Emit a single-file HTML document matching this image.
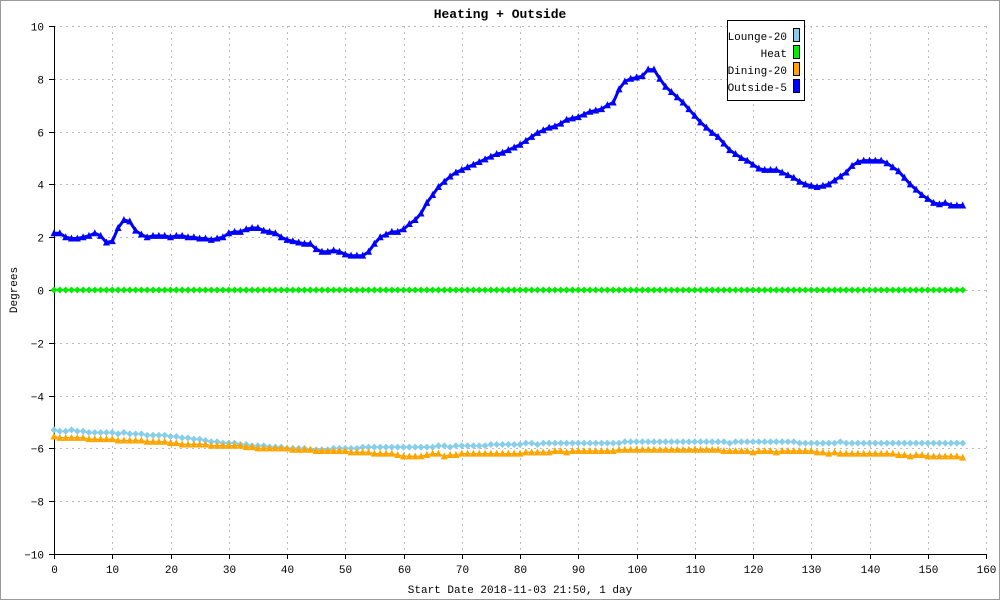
<!DOCTYPE html>
<html><head><meta charset="utf-8"><style>
html,body{margin:0;padding:0;background:#fff}
svg{display:block}
text{font-family:"Liberation Mono","DejaVu Sans Mono",monospace}
</style></head><body>
<svg id="chart" width="1000" height="600" viewBox="0 0 1000 600" xmlns="http://www.w3.org/2000/svg">
<rect x="0.5" y="0.5" width="999" height="599" fill="#fff" stroke="#999"/>
<text x="500" y="18" text-anchor="middle" font-size="13" font-weight="bold">Heating + Outside</text>
<g id="grid"></g><g id="axes"></g><g id="series"></g>
<text x="520" y="593" text-anchor="middle" font-size="11">Start Date 2018-11-03 21:50, 1 day</text>
<text transform="translate(17,290) rotate(-90)" text-anchor="middle" font-size="11">Degrees</text>
<g>
<rect x="727.5" y="20.5" width="77" height="80" fill="#fff" stroke="#000"/>
<text x="787" y="40" text-anchor="end" font-size="11">Lounge-20</text>
<rect x="793.5" y="28.5" width="6" height="13" fill="#87ceeb" stroke="#000"/>
<text x="787" y="57" text-anchor="end" font-size="11">Heat</text>
<rect x="793.5" y="45.5" width="6" height="13" fill="#00ee00" stroke="#000"/>
<text x="787" y="74" text-anchor="end" font-size="11">Dining-20</text>
<rect x="793.5" y="62.5" width="6" height="13" fill="#ffa500" stroke="#000"/>
<text x="787" y="91" text-anchor="end" font-size="11">Outside-5</text>
<rect x="793.5" y="79.5" width="6" height="13" fill="#0000ff" stroke="#000"/>
</g>
</svg>
<script>
const xTicks=[0,10,20,30,40,50,60,70,80,90,100,110,120,130,140,150,160];
const yTicks=[-10,-8,-6,-4,-2,0,2,4,6,8,10];
const outside=[2.15,2.15,2.0,1.95,1.95,2.0,2.05,2.15,2.05,1.8,1.85,2.35,2.65,2.6,2.25,2.1,2.0,2.05,2.05,2.05,2.0,2.05,2.05,2.0,2.0,1.95,1.95,1.9,1.95,2.0,2.15,2.2,2.2,2.3,2.35,2.35,2.25,2.2,2.15,2.0,1.9,1.85,1.8,1.75,1.75,1.55,1.45,1.45,1.5,1.45,1.35,1.3,1.3,1.3,1.45,1.75,2.0,2.1,2.2,2.2,2.3,2.5,2.65,2.9,3.3,3.6,3.9,4.1,4.3,4.45,4.55,4.65,4.75,4.85,4.95,5.05,5.15,5.2,5.3,5.4,5.5,5.65,5.8,5.95,6.05,6.15,6.2,6.3,6.45,6.5,6.55,6.65,6.75,6.8,6.85,7.0,7.1,7.6,7.9,8.0,8.05,8.1,8.35,8.35,8.0,7.7,7.5,7.3,7.1,6.85,6.6,6.35,6.15,5.95,5.8,5.55,5.3,5.15,5.0,4.9,4.75,4.6,4.55,4.55,4.55,4.45,4.35,4.25,4.1,4.0,3.95,3.9,3.95,4.0,4.15,4.3,4.45,4.7,4.85,4.9,4.9,4.9,4.9,4.8,4.65,4.5,4.25,4.0,3.8,3.6,3.45,3.3,3.25,3.3,3.2,3.2,3.2];
const heat=[0,0,0,0,0,0,0,0,0,0,0,0,0,0,0,0,0,0,0,0,0,0,0,0,0,0,0,0,0,0,0,0,0,0,0,0,0,0,0,0,0,0,0,0,0,0,0,0,0,0,0,0,0,0,0,0,0,0,0,0,0,0,0,0,0,0,0,0,0,0,0,0,0,0,0,0,0,0,0,0,0,0,0,0,0,0,0,0,0,0,0,0,0,0,0,0,0,0,0,0,0,0,0,0,0,0,0,0,0,0,0,0,0,0,0,0,0,0,0,0,0,0,0,0,0,0,0,0,0,0,0,0,0,0,0,0,0,0,0,0,0,0,0,0,0,0,0,0,0,0,0,0,0,0,0,0,0];
const lounge=[-5.3,-5.35,-5.35,-5.3,-5.35,-5.35,-5.4,-5.4,-5.4,-5.4,-5.4,-5.45,-5.4,-5.45,-5.45,-5.45,-5.5,-5.5,-5.5,-5.5,-5.55,-5.55,-5.6,-5.6,-5.65,-5.65,-5.7,-5.75,-5.75,-5.8,-5.8,-5.8,-5.85,-5.85,-5.9,-5.9,-5.9,-5.95,-5.95,-5.95,-6.0,-6.0,-6.0,-6.0,-6.05,-6.05,-6.05,-6.05,-6.0,-6.0,-6.0,-6.0,-6.0,-5.95,-5.95,-5.95,-5.95,-5.95,-5.95,-5.95,-5.95,-5.95,-5.95,-5.95,-5.95,-5.95,-5.9,-5.9,-5.95,-5.9,-5.9,-5.9,-5.9,-5.9,-5.9,-5.85,-5.85,-5.85,-5.85,-5.85,-5.85,-5.8,-5.8,-5.85,-5.8,-5.8,-5.8,-5.8,-5.8,-5.8,-5.8,-5.8,-5.8,-5.8,-5.8,-5.8,-5.8,-5.8,-5.75,-5.75,-5.75,-5.75,-5.75,-5.75,-5.75,-5.75,-5.75,-5.75,-5.75,-5.75,-5.75,-5.75,-5.75,-5.75,-5.75,-5.75,-5.8,-5.75,-5.75,-5.75,-5.75,-5.75,-5.75,-5.75,-5.75,-5.75,-5.75,-5.75,-5.8,-5.8,-5.8,-5.8,-5.8,-5.8,-5.8,-5.75,-5.8,-5.8,-5.8,-5.8,-5.8,-5.8,-5.8,-5.8,-5.8,-5.8,-5.8,-5.8,-5.8,-5.8,-5.8,-5.8,-5.8,-5.8,-5.8,-5.8,-5.8];
const dining=[-5.55,-5.6,-5.6,-5.6,-5.6,-5.6,-5.65,-5.65,-5.65,-5.65,-5.65,-5.7,-5.7,-5.7,-5.7,-5.7,-5.75,-5.75,-5.75,-5.75,-5.8,-5.8,-5.85,-5.85,-5.85,-5.85,-5.85,-5.9,-5.9,-5.9,-5.9,-5.9,-5.9,-5.95,-5.95,-6.0,-6.0,-6.0,-6.0,-6.0,-6.0,-6.05,-6.05,-6.05,-6.05,-6.1,-6.1,-6.1,-6.1,-6.1,-6.1,-6.15,-6.15,-6.15,-6.15,-6.2,-6.2,-6.2,-6.2,-6.25,-6.3,-6.3,-6.3,-6.3,-6.25,-6.2,-6.2,-6.3,-6.25,-6.25,-6.2,-6.2,-6.2,-6.2,-6.2,-6.2,-6.2,-6.2,-6.2,-6.2,-6.2,-6.15,-6.15,-6.15,-6.15,-6.15,-6.1,-6.1,-6.15,-6.1,-6.1,-6.1,-6.1,-6.1,-6.1,-6.1,-6.1,-6.05,-6.05,-6.05,-6.05,-6.05,-6.05,-6.05,-6.05,-6.05,-6.05,-6.05,-6.05,-6.05,-6.05,-6.05,-6.05,-6.05,-6.05,-6.1,-6.1,-6.1,-6.1,-6.1,-6.15,-6.1,-6.1,-6.1,-6.15,-6.1,-6.1,-6.1,-6.1,-6.1,-6.1,-6.15,-6.15,-6.2,-6.15,-6.2,-6.2,-6.2,-6.2,-6.2,-6.2,-6.2,-6.2,-6.2,-6.2,-6.25,-6.25,-6.3,-6.25,-6.25,-6.3,-6.3,-6.3,-6.3,-6.3,-6.3,-6.35];

const NS='http://www.w3.org/2000/svg';
const X0=54,X1=986,Y0=554,Y1=26,XMIN=0,XMAX=160,YMIN=-10,YMAX=10;
function xs(v){return X0+(v-XMIN)/(XMAX-XMIN)*(X1-X0);}
function ys(v){return Y0-(v-YMIN)/(YMAX-YMIN)*(Y0-Y1);}
function mk(tag,attrs,parent){const e=document.createElementNS(NS,tag);for(const k in attrs)e.setAttribute(k,attrs[k]);parent.appendChild(e);return e;}
const grid=document.getElementById('grid'),axes=document.getElementById('axes'),ser=document.getElementById('series');

xTicks.forEach(t=>{
  const x=Math.round(xs(t))+0.5;
  if(t>0){const g=mk('line',{x1:x,x2:x,y1:Y1,y2:Y0,stroke:'#bbb','stroke-dasharray':'2,4'},grid);
  
  }
  const tk=mk('line',{x1:x,x2:x,y1:Y0,y2:Y0+5,stroke:'#000'},axes);
  
  
  const tx=mk('text',{x:x,y:Y0+19,'text-anchor':'middle','font-size':11},axes);
  tx.textContent=t;
  
  
});
yTicks.forEach(t=>{
  const y=Math.round(ys(t))+0.5;
  if(t>YMIN){const g=mk('line',{x1:X0,x2:X1,y1:y,y2:y,stroke:'#bbb','stroke-dasharray':'2,4'},grid);
  
  }
  const tk=mk('line',{x1:X0-5,x2:X0,y1:y,y2:y,stroke:'#000'},axes);
  
  
  const tx=mk('text',{x:X0-10,y:y+4,'text-anchor':'end','font-size':11},axes);
  tx.textContent=String(t).replace('-','\u2212');
  
  
});
const ax1=mk('line',{x1:X0+0.5,x2:X0+0.5,y1:Y1,y2:Y0,stroke:'#000'},axes);


const ax2=mk('line',{x1:X0,x2:X1,y1:Y0+0.5,y2:Y0+0.5,stroke:'#000'},axes);



function drawSeries(data,color,shape,lw,name){
  const g=mk('g',{},ser);
  
  
  const pts=data.map((v,i)=>xs(i).toFixed(1)+','+ys(v).toFixed(1)).join(' ');
  const pl=mk('polyline',{points:pts,fill:'none',stroke:color,'stroke-width':lw},g);
  
  
  data.forEach((v,i)=>{
    const x=xs(i),y=ys(v);let p;
    if(shape==='tri')p=mk('polygon',{points:`${x-3.5},${y+3} ${x+3.5},${y+3} ${x},${y-4}`,fill:color},g);
    else p=mk('polygon',{points:`${x},${y-3.5} ${x+3.5},${y} ${x},${y+3.5} ${x-3.5},${y}`,fill:color},g);
    
    
  });
}
drawSeries(lounge,'#87ceeb','dia',1.5,'lounge');
drawSeries(dining,'#ffa500','tri',1.5,'dining');
drawSeries(heat,'#00ee00','dia',2,'heat');
drawSeries(outside,'#0000ff','tri',3,'outside');
</script>
</body></html>
